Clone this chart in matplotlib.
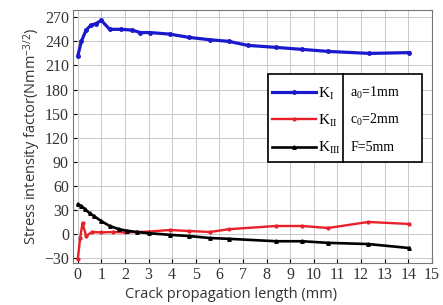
import matplotlib.pyplot as plt
from matplotlib.patches import Rectangle
import numpy as np

# crack length (mm) and stress intensity factors
x_k1 = [0.0, 0.15, 0.35, 0.55, 0.75, 1.0, 1.35, 1.85, 2.3, 2.65, 3.05, 3.9, 4.7, 5.6, 6.4, 7.2, 8.4, 9.5, 10.6, 12.35, 14.05]
k1 = [222, 240, 254, 260, 262, 266, 255, 255, 254, 251, 251, 249, 245, 242, 240, 235, 232.5, 230, 227.5, 225, 226]

x_k2 = [0.0, 0.1, 0.2, 0.35, 0.6, 1.0, 1.5, 2.0, 2.5, 3.0, 3.9, 4.7, 5.6, 6.4, 8.4, 9.5, 10.6, 12.3, 14.05]
k2 = [-31, -5, 14, -2.5, 2.5, 2, 2.5, 2, 2.5, 3, 5, 3.75, 2.5, 6, 10, 10, 7.5, 15, 12.5]

x_k3 = [0.0, 0.15, 0.3, 0.5, 0.7, 1.0, 1.35, 1.75, 2.1, 2.5, 3.0, 3.9, 4.7, 5.6, 6.4, 8.4, 9.5, 10.6, 12.3, 14.05]
k3 = [37, 35, 31, 26, 22, 16, 10, 6, 4, 2.5, 1, -1, -2.5, -5, -6, -9, -9, -11, -12.5, -17.5]

xticks = list(range(0, 16))
yticks = list(range(-30, 271, 30))

serif = 'Liberation Serif'
sans = 'Open Sans'
plt.rcParams['mathtext.fontset'] = 'custom'
plt.rcParams['mathtext.rm'] = serif
plt.rcParams['mathtext.it'] = serif + ':italic'
plt.rcParams['mathtext.sf'] = sans

fig = plt.figure(figsize=(4.43, 3.05), dpi=100)
ax = fig.add_axes([0.165, 0.138, 0.81, 0.829])

ax.plot(x_k1, k1, color='#1a1acc', lw=2.3, marker='o', ms=2.5, label=r'K$_{\rm I}$')
ax.plot(x_k2, k2, color='#e8202a', lw=1.7, marker='o', ms=2, label=r'K$_{\rm II}$')
ax.plot(x_k3, k3, color='black', lw=1.9, marker='^', ms=2.5, label=r'K$_{\rm III}$')

ax.set_xlim(-0.2, 15)
ax.set_ylim(-36, 279)
ax.set_xticks(xticks)
ax.set_yticks(yticks)
ax.grid(True, color='#c8c8c8', lw=0.7)
ax.tick_params(direction='in', length=3, labelsize=11.5, pad=3)
for lab in ax.get_xticklabels() + ax.get_yticklabels():
    lab.set_family(serif)
    lab.set_color('#333333')
for s in ax.spines.values():
    s.set_color('#777777')
    s.set_linewidth(0.8)

ax.set_xlabel('Crack propagation length (mm)', family=sans, fontsize=10.5, color='#333333', labelpad=0)
ax.xaxis.set_label_coords(0.44, -0.095)
ax.set_ylabel(r'Stress intensity factor(Nmm$^{\mathsf{-3/2}}$)', family=sans, fontsize=10.5,
              color='#333333', labelpad=1)

# boxed legend with parameters panel
box_l, box_r, box_b, box_t, div = 0.543, 0.972, 0.399, 0.747, 0.752
ax.add_patch(Rectangle((box_l, box_b), box_r - box_l, box_t - box_b, transform=ax.transAxes,
                       fill=True, fc='white', ec='black', lw=1.2, zorder=5))
ax.plot([div, div], [box_b, box_t], transform=ax.transAxes, color='black', lw=1.2, zorder=6)

leg = ax.legend(loc='upper left', bbox_to_anchor=(box_l - 0.019, box_t - 0.004), frameon=False,
                handlelength=2.9, handletextpad=0.1, labelspacing=0.72, borderaxespad=0.3,
                prop={'family': serif, 'size': 11})
leg.set_zorder(7)

params = [r'a$_0$=1mm', r'c$_0$=2mm', 'F=5mm']
for i, t in enumerate(params):
    ax.text(div + 0.02, 0.672 - i * 0.108, t, transform=ax.transAxes, family=serif,
            fontsize=10, va='center', ha='left', zorder=7)

plt.savefig('out.png', dpi=100)
